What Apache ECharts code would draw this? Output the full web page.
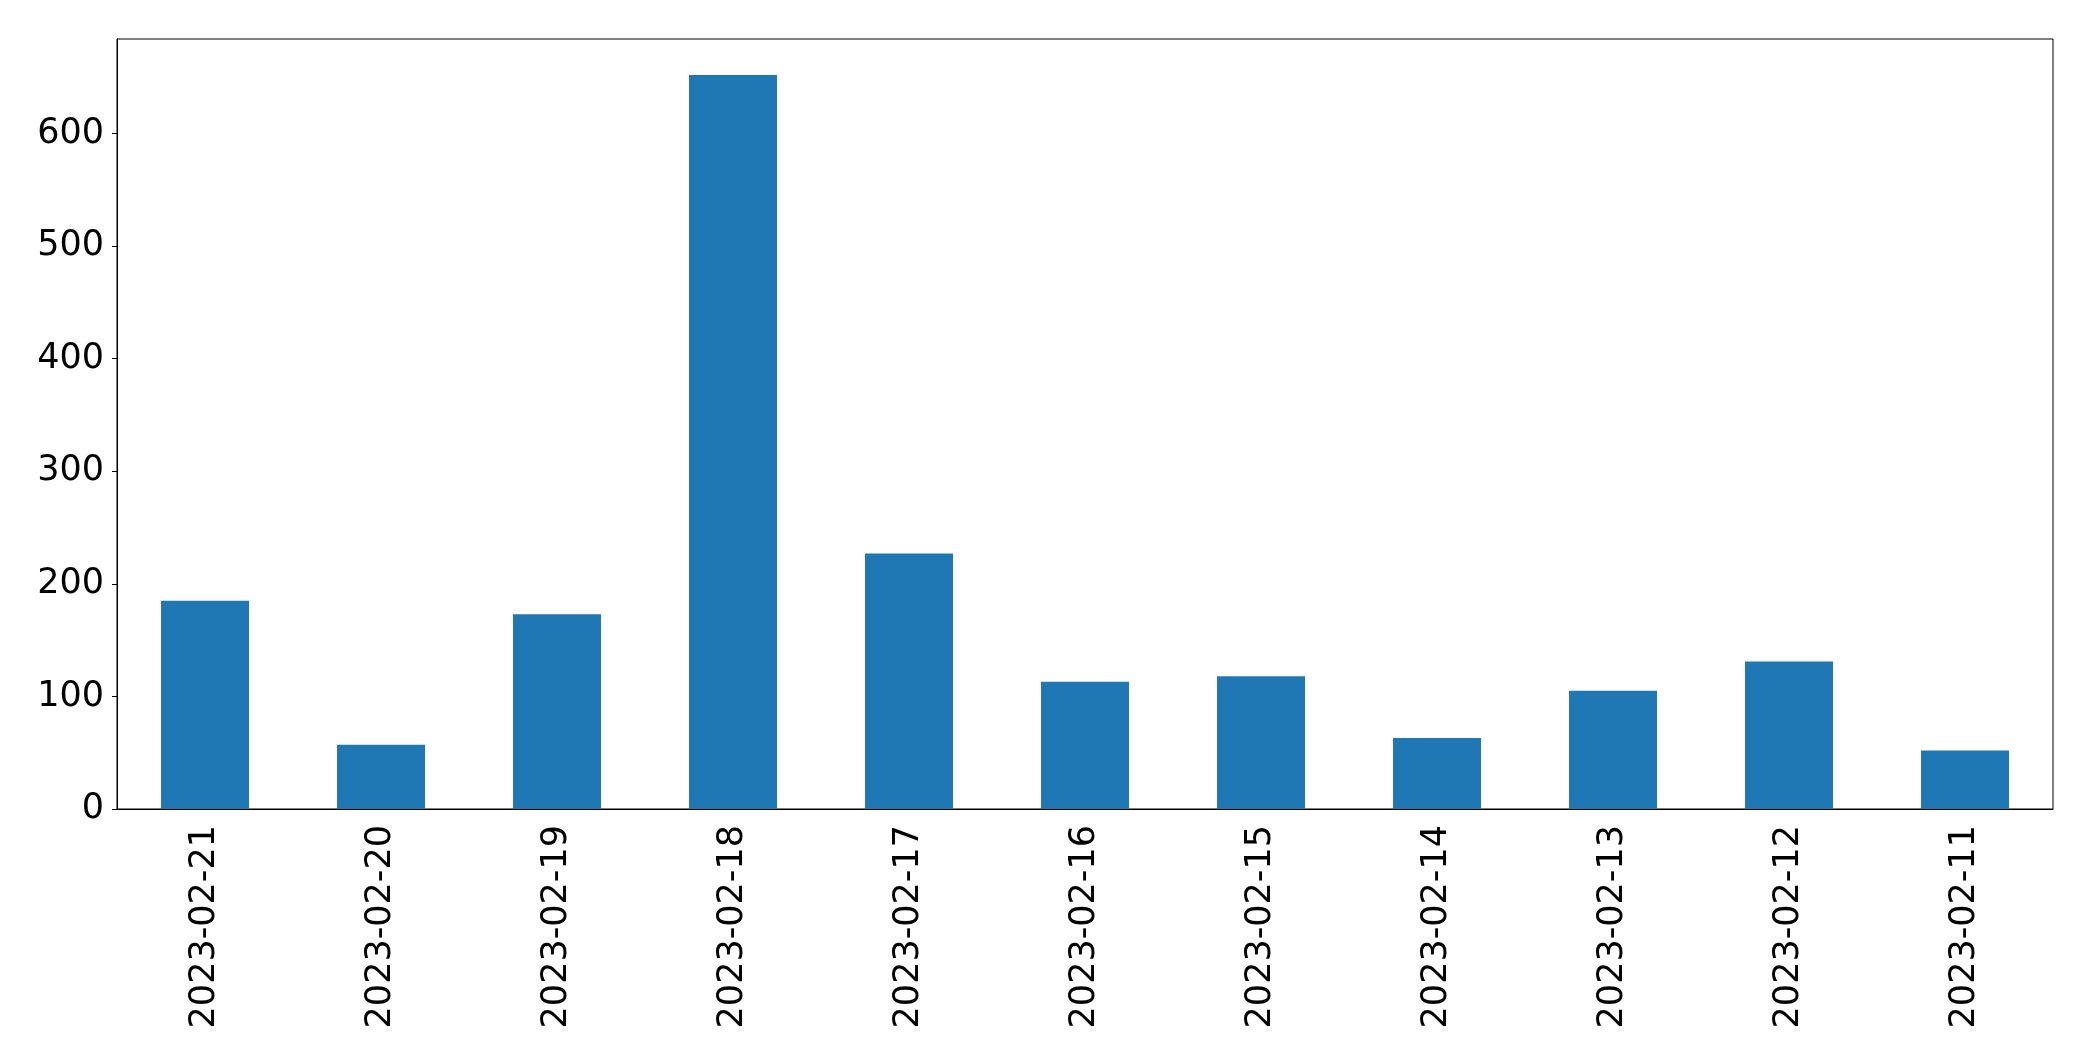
<!DOCTYPE html>
<html>
<head>
<meta charset="utf-8">
<script src="https://cdn.jsdelivr.net/npm/echarts@6/dist/echarts.min.js"></script>
<style>
html,body{margin:0;padding:0;background:#fff;}
#chart{width:2093px;height:1061px;}
</style>
</head>
<body>
<div id="chart"></div>
<script>
const categories = ["2023-02-21","2023-02-20","2023-02-19","2023-02-18","2023-02-17","2023-02-16","2023-02-15","2023-02-14","2023-02-13","2023-02-12","2023-02-11"];
const values = [185, 57, 173, 652, 227, 113, 118, 63, 105, 131, 52];
const yTicks = [0, 100, 200, 300, 400, 500, 600];

const chart = echarts.init(document.getElementById('chart'), null, {renderer: 'canvas'});
const font = 'DejaVu Sans';
chart.setOption({
  animation: false,
  backgroundColor: '#fff',
  grid: {
    left: 117, right: 40, top: 39, bottom: 252,
    show: true, borderColor: '#000', borderWidth: 1, backgroundColor: 'transparent',
    containLabel: false
  },
  xAxis: {
    type: 'category',
    data: categories,
    boundaryGap: true,
    axisLine: {lineStyle: {color: '#000', width: 1}},
    axisTick: {alignWithLabel: true, length: 5, lineStyle: {color: '#000', width: 1}},
    axisLabel: {rotate: 90, margin: 16, color: '#000', fontSize: 35, fontFamily: font, interval: 0},
    splitLine: {show: false}
  },
  yAxis: {
    type: 'value',
    min: 0, max: 684, interval: 100,
    axisLine: {show: true, lineStyle: {color: '#000', width: 1}},
    axisTick: {show: true, length: 5, lineStyle: {color: '#000', width: 1}, customValues: yTicks},
    axisLabel: {margin: 13, color: '#000', fontSize: 35, fontFamily: font, customValues: yTicks},
    splitLine: {show: false}
  },
  series: [{
    type: 'bar',
    data: values,
    barCategoryGap: '50%',
    itemStyle: {color: '#1f77b4'}
  }]
});
</script>
</body>
</html>
